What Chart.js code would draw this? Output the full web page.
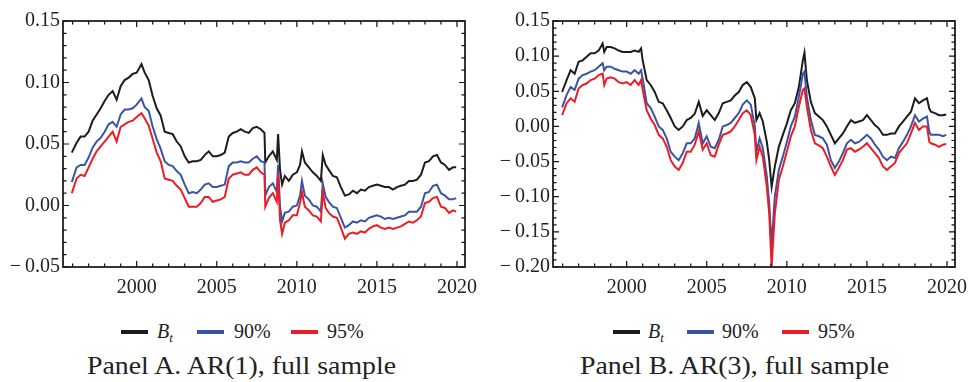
<!DOCTYPE html>
<html>
<head>
<meta charset="utf-8">
<script src="https://cdn.jsdelivr.net/npm/chart.js@4.4.1/dist/chart.umd.min.js"></script>
<style>
  body { margin: 0; background: #fff; width: 969px; height: 382px; position: relative; overflow: hidden; font-family: "Liberation Serif", serif; color: #222; }
  .panel { position: absolute; top: 0; height: 300px; }
  .sw { position: absolute; width: 27px; height: 4px; top: 330px; }
  .lt { position: absolute; top: 319px; font-size: 20px; line-height: 24px; white-space: nowrap; }
  .lt sub { font-size: 13px; vertical-align: -4px; }
  .cap { position: absolute; top: 351px; font-size: 26px; line-height: 30px; transform: scaleX(1.07); transform-origin: left top; white-space: nowrap; }
</style>
</head>
<body>
<div class="panel" style="left:0;width:480px"><canvas id="chartA" width="480" height="300"></canvas></div>
<div class="panel" style="left:480px;width:489px"><canvas id="chartB" width="489" height="300"></canvas></div>

<div class="sw" style="left:121px;background:#1c1c1c"></div>
<div class="lt" style="left:157px"><i>B<sub>t</sub></i></div>
<div class="sw" style="left:197px;background:#3a54a4"></div>
<div class="lt" style="left:234px">90%</div>
<div class="sw" style="left:291px;background:#ec1c24"></div>
<div class="lt" style="left:327px">95%</div>
<div class="cap" style="left:87px">Panel A. AR(1), full sample</div>

<div class="sw" style="left:613px;background:#1c1c1c"></div>
<div class="lt" style="left:648px"><i>B<sub>t</sub></i></div>
<div class="sw" style="left:687px;background:#3a54a4"></div>
<div class="lt" style="left:722px">90%</div>
<div class="sw" style="left:782px;background:#ec1c24"></div>
<div class="lt" style="left:818px">95%</div>
<div class="cap" style="left:580px">Panel B. AR(3), full sample</div>

<script>
// Panel A: AR(1), full sample
const yearsA = [1995.95, 1996.25, 1996.5, 1996.75, 1997, 1997.25, 1997.5, 1997.75, 1998, 1998.25, 1998.5, 1998.75,
  1999, 1999.25, 1999.5, 1999.75, 2000, 2000.3, 2000.5, 2000.75, 2001, 2001.25, 2001.5, 2001.75,
  2002, 2002.25, 2002.5, 2002.75, 2003, 2003.25, 2003.5, 2003.75, 2004, 2004.25, 2004.5, 2004.75,
  2005, 2005.25, 2005.5, 2005.75, 2006, 2006.25, 2006.5, 2006.75, 2007, 2007.25, 2007.5, 2007.75,
  2007.98, 2008.03, 2008.25, 2008.5, 2008.75, 2008.83, 2008.95, 2009.08, 2009.25, 2009.5, 2009.75,
  2010, 2010.2, 2010.32, 2010.5, 2010.75, 2011, 2011.25, 2011.5, 2011.62, 2011.8,
  2012, 2012.25, 2012.5, 2012.75, 2013, 2013.25, 2013.5, 2013.75, 2014, 2014.25, 2014.5, 2014.75,
  2015, 2015.25, 2015.5, 2015.75, 2016, 2016.25, 2016.5, 2016.75, 2017, 2017.25, 2017.5, 2017.75,
  2018, 2018.25, 2018.5, 2018.75, 2019, 2019.25, 2019.5, 2019.75, 2019.95];
const boundA = [0.043, 0.051, 0.056, 0.056, 0.060, 0.069, 0.074, 0.079, 0.085, 0.090, 0.093, 0.086,
  0.097, 0.102, 0.104, 0.107, 0.108, 0.115, 0.108, 0.102, 0.089, 0.079, 0.073, 0.060,
  0.059, 0.058, 0.052, 0.048, 0.040, 0.035, 0.036, 0.036, 0.037, 0.041, 0.044, 0.040,
  0.040, 0.041, 0.043, 0.056, 0.059, 0.060, 0.062, 0.060, 0.059, 0.063, 0.064, 0.062,
  0.059, 0.035, 0.040, 0.044, 0.037, 0.058, 0.029, 0.017, 0.024, 0.020, 0.025,
  0.027, 0.033, 0.044, 0.035, 0.031, 0.027, 0.024, 0.020, 0.041, 0.033,
  0.029, 0.024, 0.023, 0.015, 0.008, 0.009, 0.012, 0.010, 0.013, 0.012, 0.015, 0.016,
  0.017, 0.016, 0.015, 0.015, 0.013, 0.015, 0.016, 0.017, 0.020, 0.020, 0.021, 0.025,
  0.035, 0.036, 0.040, 0.041, 0.035, 0.033, 0.029, 0.031, 0.031];
const ci90A = [0.019, 0.031, 0.033, 0.033, 0.039, 0.047, 0.052, 0.055, 0.060, 0.066, 0.068, 0.064,
  0.074, 0.078, 0.078, 0.079, 0.082, 0.087, 0.080, 0.077, 0.064, 0.054, 0.046, 0.036,
  0.033, 0.032, 0.028, 0.025, 0.017, 0.010, 0.011, 0.010, 0.013, 0.017, 0.018, 0.015,
  0.015, 0.016, 0.017, 0.032, 0.035, 0.035, 0.036, 0.035, 0.035, 0.038, 0.040, 0.036,
  0.035, 0.008, 0.015, 0.018, 0.011, 0.033, -0.001, -0.013, -0.006, -0.005, -0.001,
  0.000, 0.008, 0.020, 0.008, 0.005, 0.000, -0.001, -0.005, 0.018, 0.007,
  0.003, -0.001, -0.002, -0.010, -0.018, -0.016, -0.013, -0.014, -0.012, -0.013, -0.010, -0.009,
  -0.008, -0.009, -0.011, -0.010, -0.011, -0.010, -0.009, -0.008, -0.005, -0.005, -0.005, -0.001,
  0.010, 0.011, 0.016, 0.017, 0.010, 0.008, 0.005, 0.005, 0.006];
const ci95A = [0.010, 0.022, 0.025, 0.024, 0.031, 0.038, 0.044, 0.048, 0.052, 0.056, 0.060, 0.052,
  0.064, 0.066, 0.068, 0.069, 0.072, 0.075, 0.071, 0.065, 0.054, 0.043, 0.036, 0.022,
  0.021, 0.020, 0.016, 0.013, 0.006, -0.001, -0.001, -0.001, 0.002, 0.007, 0.007, 0.003,
  0.004, 0.005, 0.007, 0.022, 0.025, 0.026, 0.027, 0.025, 0.025, 0.029, 0.031, 0.027,
  0.025, -0.001, 0.006, 0.010, 0.003, 0.026, -0.012, -0.023, -0.014, -0.012, -0.008,
  -0.008, 0.002, 0.011, -0.001, -0.004, -0.008, -0.009, -0.013, 0.011, -0.002,
  -0.006, -0.009, -0.010, -0.018, -0.027, -0.023, -0.022, -0.023, -0.021, -0.022, -0.019, -0.017,
  -0.016, -0.018, -0.019, -0.018, -0.019, -0.018, -0.017, -0.015, -0.013, -0.014, -0.012, -0.009,
  0.002, 0.003, 0.006, 0.007, -0.001, -0.002, -0.006, -0.004, -0.005];

// Panel B: AR(3), full sample
const yearsB = [1995.97, 1996.25, 1996.5, 1996.75, 1997, 1997.25, 1997.5, 1997.75, 1998, 1998.25, 1998.5, 1998.6, 1998.75,
  1999, 1999.25, 1999.5, 1999.75, 2000, 2000.25, 2000.5, 2000.75, 2000.9, 2001, 2001.25, 2001.5, 2001.75,
  2002, 2002.25, 2002.5, 2002.75, 2003, 2003.25, 2003.5, 2003.75, 2004, 2004.25, 2004.5, 2004.75,
  2005, 2005.25, 2005.5, 2005.75, 2006, 2006.25, 2006.5, 2006.75, 2007, 2007.25, 2007.5, 2007.75,
  2008, 2008.1, 2008.3, 2008.5, 2008.75, 2008.9, 2009.05, 2009.25, 2009.5, 2009.75,
  2010, 2010.25, 2010.5, 2010.75, 2011, 2011.1, 2011.25, 2011.5, 2011.75,
  2012, 2012.25, 2012.5, 2012.75, 2013, 2013.25, 2013.5, 2013.75, 2014, 2014.25, 2014.5, 2014.75,
  2015, 2015.25, 2015.5, 2015.75, 2016, 2016.25, 2016.5, 2016.75, 2017, 2017.25, 2017.5, 2017.75,
  2018, 2018.25, 2018.5, 2018.75, 2018.9, 2019, 2019.25, 2019.5, 2019.75, 2019.95];
const boundB = [0.049, 0.066, 0.080, 0.075, 0.092, 0.094, 0.099, 0.104, 0.104, 0.108, 0.118, 0.106, 0.113,
  0.113, 0.111, 0.108, 0.106, 0.106, 0.106, 0.108, 0.106, 0.111, 0.094, 0.066, 0.059, 0.049,
  0.035, 0.033, 0.023, 0.012, 0.000, -0.005, 0.000, 0.009, 0.012, 0.018, 0.035, 0.015,
  0.023, 0.016, 0.009, 0.019, 0.033, 0.035, 0.037, 0.044, 0.049, 0.059, 0.063, 0.056,
  0.040, 0.009, 0.019, 0.007, -0.022, -0.048, -0.086, -0.057, -0.029, -0.012,
  0.004, 0.023, 0.033, 0.056, 0.094, 0.105, 0.066, 0.035, 0.019,
  0.014, 0.009, 0.000, -0.012, -0.024, -0.017, -0.010, 0.000, 0.009, 0.005, 0.007, 0.009,
  0.016, 0.009, 0.002, -0.003, -0.012, -0.012, -0.010, -0.010, 0.000, 0.007, 0.014, 0.021,
  0.040, 0.033, 0.037, 0.040, 0.025, 0.021, 0.019, 0.016, 0.016, 0.017];
const ci90B = [0.027, 0.045, 0.056, 0.052, 0.068, 0.073, 0.075, 0.078, 0.080, 0.085, 0.090, 0.080, 0.085,
  0.085, 0.082, 0.080, 0.078, 0.078, 0.075, 0.080, 0.075, 0.080, 0.068, 0.033, 0.026, 0.014,
  0.000, -0.005, -0.017, -0.036, -0.043, -0.048, -0.038, -0.024, -0.024, -0.017, 0.005, -0.024,
  -0.014, -0.029, -0.031, -0.019, 0.000, 0.002, 0.005, 0.012, 0.019, 0.031, 0.037, 0.031,
  0.000, -0.036, -0.017, -0.031, -0.071, -0.109, -0.170, -0.100, -0.062, -0.043,
  -0.022, 0.000, 0.014, 0.042, 0.075, 0.078, 0.042, 0.009, -0.012,
  -0.014, -0.017, -0.026, -0.048, -0.059, -0.050, -0.038, -0.024, -0.019, -0.024, -0.022, -0.017,
  -0.012, -0.017, -0.026, -0.033, -0.043, -0.048, -0.043, -0.045, -0.031, -0.022, -0.012, 0.000,
  0.016, 0.007, 0.011, 0.014, -0.008, -0.012, -0.012, -0.012, -0.014, -0.012];
const ci95B = [0.016, 0.033, 0.040, 0.035, 0.054, 0.059, 0.061, 0.066, 0.068, 0.073, 0.075, 0.059, 0.068,
  0.070, 0.068, 0.063, 0.061, 0.063, 0.059, 0.066, 0.059, 0.066, 0.052, 0.023, 0.011, 0.002,
  -0.012, -0.017, -0.029, -0.048, -0.057, -0.062, -0.052, -0.036, -0.036, -0.026, -0.007, -0.033,
  -0.024, -0.041, -0.043, -0.026, -0.012, -0.010, -0.007, 0.000, 0.009, 0.019, 0.023, 0.016,
  -0.012, -0.048, -0.029, -0.043, -0.086, -0.124, -0.199, -0.124, -0.076, -0.057,
  -0.036, -0.014, 0.000, 0.028, 0.052, 0.054, 0.028, -0.005, -0.024,
  -0.027, -0.031, -0.043, -0.057, -0.069, -0.059, -0.048, -0.033, -0.031, -0.036, -0.033, -0.029,
  -0.024, -0.031, -0.038, -0.045, -0.057, -0.062, -0.057, -0.052, -0.038, -0.031, -0.024, -0.010,
  0.005, -0.005, 0.000, 0.000, -0.022, -0.024, -0.026, -0.029, -0.026, -0.025];

const xTickYears = [2000, 2005, 2010, 2015, 2020];
const seriesNames = ['B_t', '90%', '95%'];
const seriesColors = ['#1c1c1c', '#3a54a4', '#ec1c24'];

const tickFont = { family: '"Liberation Serif", serif', size: 20 };

function fmtY(v) {
  const r = Math.round(v * 100) / 100;
  return r < 0 ? '\u2212\u2009' + Math.abs(r).toFixed(2) : r.toFixed(2);
}

// Mathematica-style frame with inward ticks on all four sides
const framePlugin = {
  id: 'frame',
  afterDraw(chart) {
    const { ctx, chartArea: a, scales: { x, y } } = chart;
    ctx.save();
    ctx.strokeStyle = '#111';
    ctx.lineWidth = 1.2;
    ctx.beginPath();
    for (let yr = Math.ceil(x.min); yr <= x.max; yr++) {
      const px = x.getPixelForValue(yr);
      const len = yr % 5 === 0 ? 6 : 3.5;
      ctx.moveTo(px, a.bottom); ctx.lineTo(px, a.bottom - len);
      ctx.moveTo(px, a.top); ctx.lineTo(px, a.top + len);
    }
    for (let k = Math.ceil(y.min * 100 - 1e-6); k <= Math.floor(y.max * 100 + 1e-6); k++) {
      const py = y.getPixelForValue(k / 100);
      const len = k % 5 === 0 ? 6 : 3.5;
      ctx.moveTo(a.left, py); ctx.lineTo(a.left + len, py);
      ctx.moveTo(a.right, py); ctx.lineTo(a.right - len, py);
    }
    ctx.stroke();
    ctx.lineWidth = 1.7;
    ctx.strokeRect(a.left, a.top, a.right - a.left, a.bottom - a.top);
    ctx.restore();
  }
};

function makeChart(id, years, series, yMin, yMax, axisW, padRight) {
  const datasets = series.map((vals, i) => ({
    label: seriesNames[i],
    data: years.map((yr, j) => ({ x: yr, y: vals[j] })),
    borderColor: seriesColors[i],
    borderWidth: 2,
    pointRadius: 0,
    tension: 0,
    order: 2 - i
  }));
  return new Chart(document.getElementById(id), {
    type: 'line',
    data: { datasets },
    options: {
      responsive: false,
      animation: false,
      devicePixelRatio: 1,
      layout: { padding: { left: 0, top: 21, right: padRight, bottom: 0 } },
      plugins: { legend: { display: false }, tooltip: { enabled: false } },
      scales: {
        x: {
          type: 'linear',
          min: 1995.4,
          max: 2020.5,
          grid: { display: false, drawTicks: false },
          border: { display: false },
          afterBuildTicks: s => { s.ticks = xTickYears.map(v => ({ value: v })); },
          afterFit: s => { s.height = 33; s.paddingLeft = 0; s.paddingRight = 0; },
          ticks: { font: tickFont, color: '#222', padding: 9, maxRotation: 0, callback: v => String(v) }
        },
        y: {
          min: yMin,
          max: yMax,
          grid: { display: false, drawTicks: false },
          border: { display: false },
          afterFit: s => { s.width = axisW; s.paddingTop = 0; s.paddingBottom = 0; },
          ticks: { font: tickFont, color: '#222', padding: 3, stepSize: 0.05, callback: v => fmtY(v) }
        }
      }
    },
    plugins: [framePlugin]
  });
}

makeChart('chartA', yearsA, [boundA, ci90A, ci95A], -0.05, 0.15, 63, 15);
makeChart('chartB', yearsB, [boundB, ci90B, ci95B], -0.2, 0.15, 73, 14);
</script>
</body>
</html>
